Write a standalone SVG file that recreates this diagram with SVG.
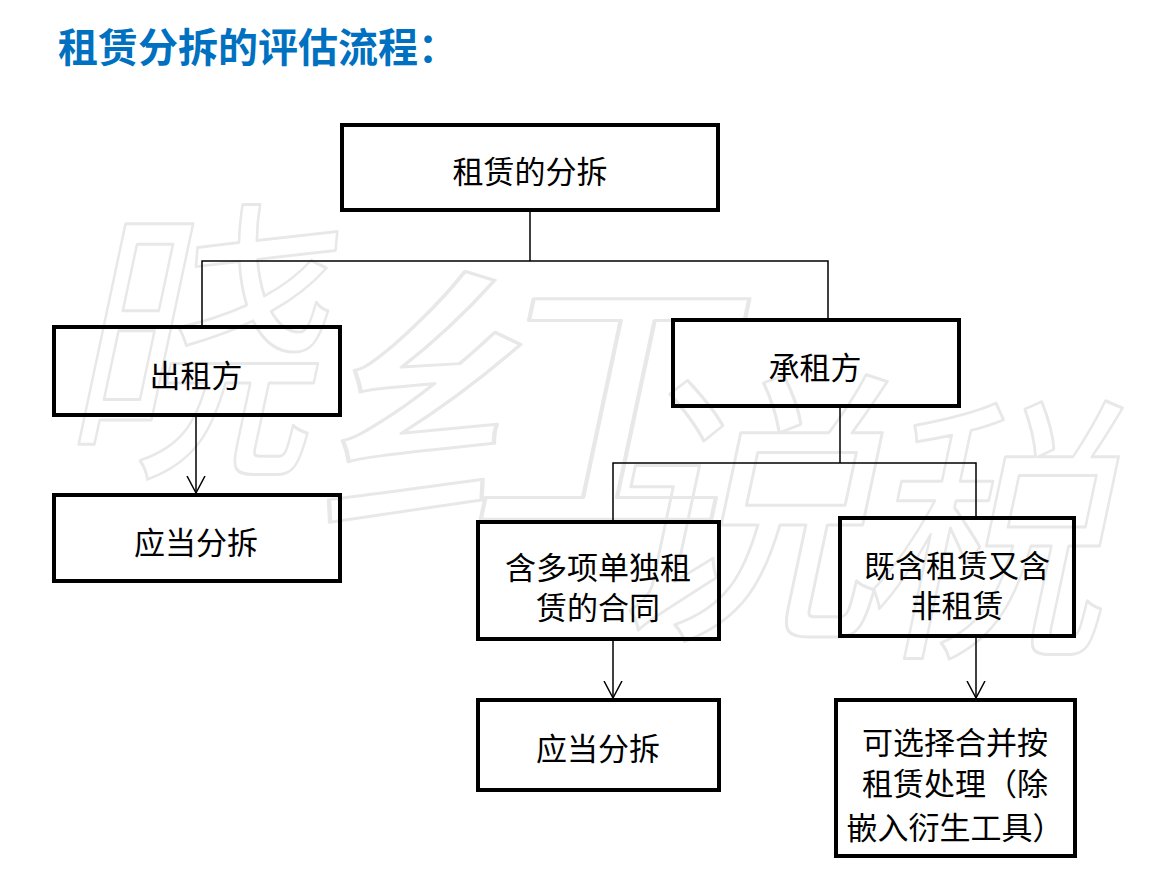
<svg xmlns="http://www.w3.org/2000/svg" width="1149" height="878" viewBox="0 0 1149 878">
<style>
.wm{font-family:"Noto Sans CJK SC","Noto Sans",sans-serif;fill:none;stroke:#e8e8e8;stroke-width:3;stroke-linejoin:round}
.box{fill:none;stroke:#000;stroke-width:4}
.lbl{font-family:"Liberation Sans","Noto Sans CJK SC",sans-serif;font-size:31px;fill:#000;text-anchor:middle}
.con{fill:none;stroke:#000;stroke-width:1.5}
.title{font-family:"Noto Sans CJK SC",sans-serif;font-size:40px;font-weight:bold;fill:#0070C0}
</style>
<defs>
<marker id="arr" markerWidth="20" markerHeight="20" refX="17" refY="10" orient="auto" markerUnits="userSpaceOnUse" viewBox="0 0 20 20">
<path d="M0,1 L17,10 L0,19" fill="none" stroke="#000" stroke-width="1.5"/>
</marker>
</defs>
<rect width="1149" height="878" fill="#fff"/>
<g id="watermark">
<text class="wm" font-size="300" text-anchor="middle" transform="translate(185,455) skewX(-12) scale(0.85,1)">晓</text>
<text class="wm" font-size="290" text-anchor="middle" transform="translate(520,515) skewX(-12) scale(1.45,1)">红</text>
<text class="wm" font-size="290" text-anchor="middle" transform="translate(735,618) skewX(-12) scale(1.0,1)">说</text>
<text class="wm" font-size="280" text-anchor="middle" transform="translate(980,636) skewX(-12) scale(0.88,1)">税</text>
</g>
<text class="title" x="58" y="62">租赁分拆的评估流程：</text>
<g id="connectors">
<polyline class="con" points="530,212 530,261"/>
<polyline class="con" points="202,325 202,261 828,261 828,318"/>
<line class="con" x1="196" y1="417" x2="196" y2="493" marker-end="url(#arr)"/>
<polyline class="con" points="840,408 840,463"/>
<polyline class="con" points="613,520 613,463 976,463 976,516"/>
<line class="con" x1="613" y1="641" x2="613" y2="698" marker-end="url(#arr)"/>
<line class="con" x1="976" y1="638" x2="976" y2="698" marker-end="url(#arr)"/>
</g>
<g id="n-root"><rect class="box" x="342" y="125" width="376" height="85"/><text class="lbl" x="530" y="183">租赁的分拆</text></g>
<g id="n-lessor"><rect class="box" x="54" y="327" width="286" height="88"/><text class="lbl" x="196" y="387">出租方</text></g>
<g id="n-split-left"><rect class="box" x="54" y="495" width="286" height="86"/><text class="lbl" x="196" y="554">应当分拆</text></g>
<g id="n-lessee"><rect class="box" x="673" y="320" width="286" height="86"/><text class="lbl" x="815" y="379">承租方</text></g>
<g id="n-multi"><rect class="box" x="478" y="522" width="241" height="117"/><text class="lbl" x="598" y="579">含多项单独租</text><text class="lbl" x="598" y="619">赁的合同</text></g>
<g id="n-mixed"><rect class="box" x="840" y="518" width="234" height="118"/><text class="lbl" x="957" y="577">既含租赁又含</text><text class="lbl" x="957" y="617">非租赁</text></g>
<g id="n-split-right"><rect class="box" x="478" y="700" width="241" height="90"/><text class="lbl" x="598" y="760">应当分拆</text></g>
<g id="n-option"><rect class="box" x="836" y="700" width="239" height="156"/><text class="lbl" x="955" y="754">可选择合并按</text><text class="lbl" x="955" y="795">租赁处理（除</text><text class="lbl" x="955" y="839">嵌入衍生工具）</text></g>
</svg>
